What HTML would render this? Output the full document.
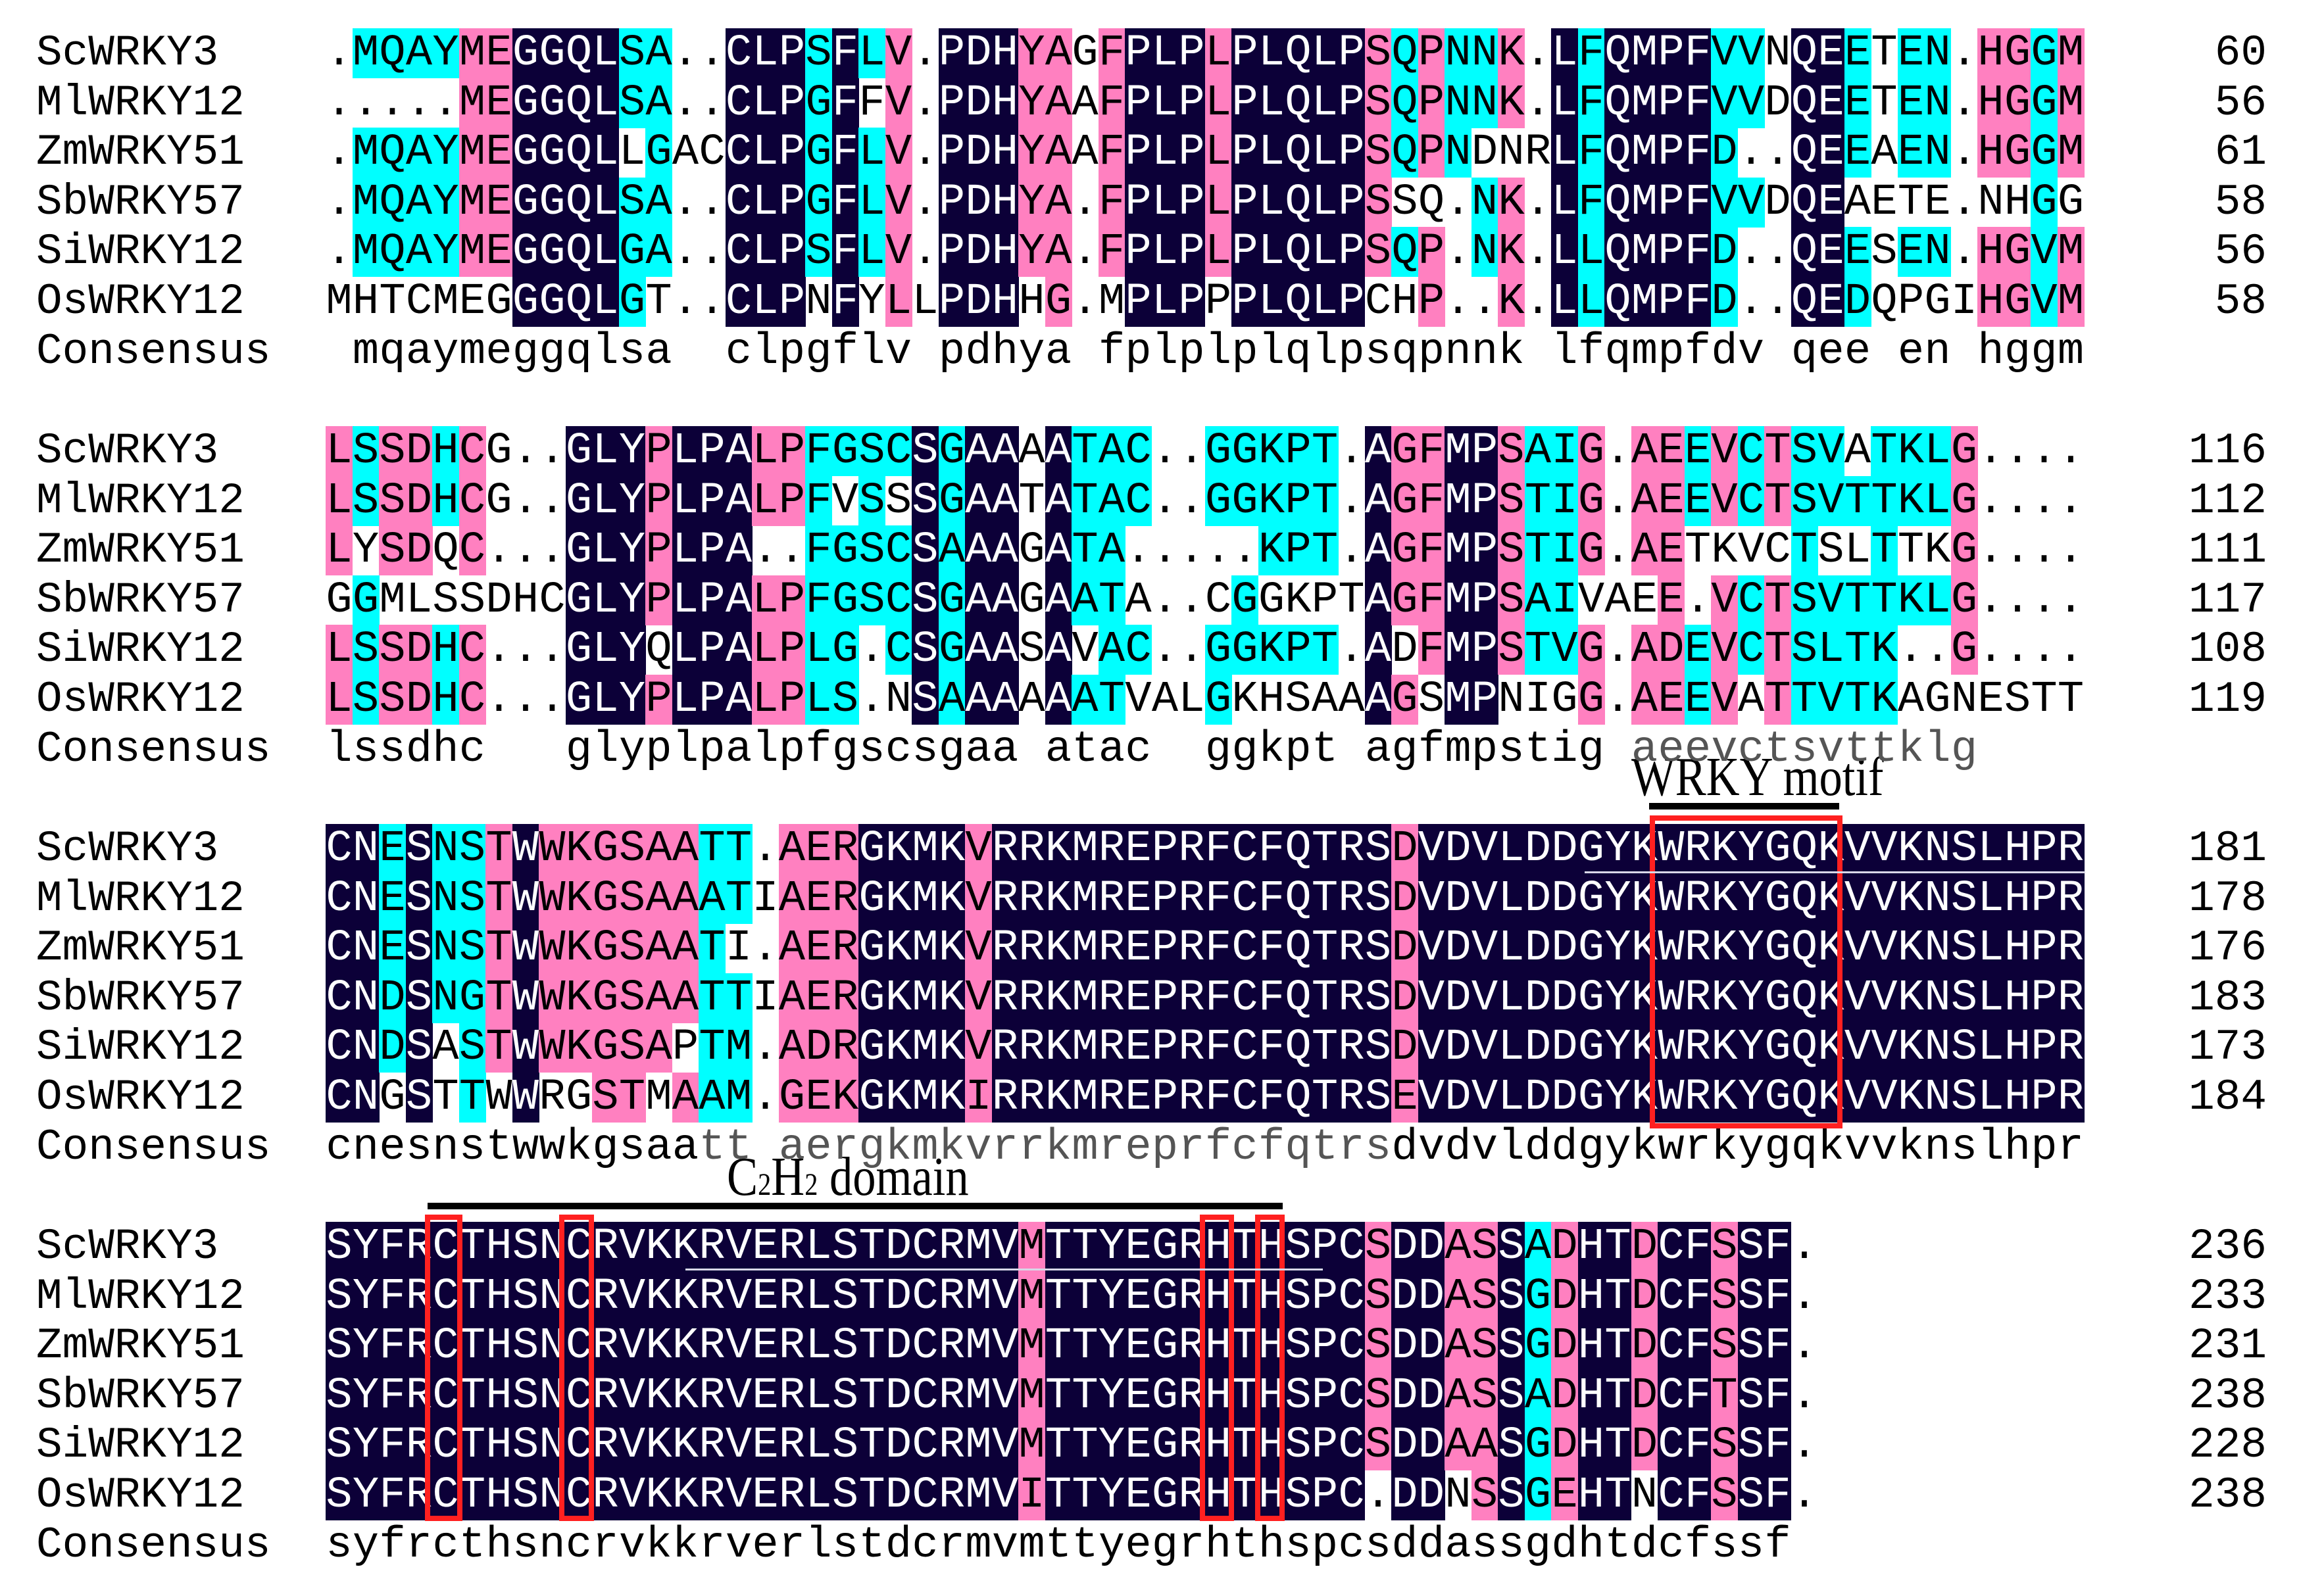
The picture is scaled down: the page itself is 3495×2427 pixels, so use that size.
<!DOCTYPE html>
<html><head><meta charset="utf-8">
<style>
html,body{margin:0;padding:0;background:#fff;}
#fig{position:relative;width:3495px;height:2427px;overflow:hidden;background:#fff;font-family:"Liberation Mono","DejaVu Sans Mono",monospace;}
.cell{position:absolute;width:41px;height:76px;line-height:76px;font-size:67px;text-align:center;color:#000;}
.lbl{position:absolute;height:76px;line-height:76px;font-size:66px;color:#000;white-space:pre;}
.num{position:absolute;height:76px;line-height:76px;font-size:66px;color:#000;text-align:right;width:200px;}
.ann{position:absolute;font-family:"Liberation Serif",serif;color:#000;white-space:nowrap;line-height:1;}
.bar{position:absolute;background:#000;}
.box{position:absolute;border:8px solid #ff2020;box-sizing:border-box;}
.uline{position:absolute;height:3px;background:#d8d8e8;}
</style></head>
<body>
<div id="fig">
  <div class="ann" style="left:2480px;top:1140px;font-size:84px;transform:scaleX(0.84);transform-origin:left top;">WRKY motif</div>
  <div class="bar" style="left:2507px;top:1221px;width:289px;height:10px;"></div>
  <div class="ann" style="left:1105px;top:1748px;font-size:84px;transform:scaleX(0.84);transform-origin:left top;">C<span style="font-size:48px">2</span>H<span style="font-size:48px">2</span> domain</div>
  <div class="bar" style="left:650px;top:1829px;width:1300px;height:10px;"></div>
</div>
<script>
const names = ["ScWRKY3","MlWRKY12","ZmWRKY51","SbWRKY57","SiWRKY12","OsWRKY12"];
const block1 = [
".MQAYMEGGQLSA..CLPSFLV.PDHYAGFPLPLPLQLPSQPNNK.LFQMPFVVNQEETEN.HGGM",
".....MEGGQLSA..CLPGFFV.PDHYAAFPLPLPLQLPSQPNNK.LFQMPFVVDQEETEN.HGGM",
".MQAYMEGGQLLGACCLPGFLV.PDHYAAFPLPLPLQLPSQPNDNRLFQMPFD..QEEAEN.HGGM",
".MQAYMEGGQLSA..CLPGFLV.PDHYA.FPLPLPLQLPSSQ.NK.LFQMPFVVDQEAETE.NHGG",
".MQAYMEGGQLGA..CLPSFLV.PDHYA.FPLPLPLQLPSQP.NK.LLQMPFD..QEESEN.HGVM",
"MHTCMEGGGQLGT..CLPNFYLLPDHHG.MPLPPPLQLPCHP..K.LLQMPFD..QEDQPGIHGVM"];
const block2 = [
"LSSDHCG..GLYPLPALPFGSCSGAAAATAC..GGKPT.AGFMPSAIG.AEEVCTSVATKLG....",
"LSSDHCG..GLYPLPALPFVSSSGAATATAC..GGKPT.AGFMPSTIG.AEEVCTSVTTKLG....",
"LYSDQC...GLYPLPA..FGSCSAAAGATA.....KPT.AGFMPSTIG.AETKVCTSLTTKG....",
"GGMLSSDHCGLYPLPALPFGSCSGAAGAATA..CGGKPTAGFMPSAIVAEE.VCTSVTTKLG....",
"LSSDHC...GLYQLPALPLG.CSGAASAVAC..GGKPT.ADFMPSTVG.ADEVCTSLTK..G....",
"LSSDHC...GLYPLPALPLS.NSAAAAAATVALGKHSAAAGSMPNIGG.AEEVATTVTKAGNESTT"];
const block3 = [
"CNESNSTWWKGSAATT.AERGKMKVRRKMREPRFCFQTRSDVDVLDDGYKWRKYGQKVVKNSLHPR",
"CNESNSTWWKGSAAATIAERGKMKVRRKMREPRFCFQTRSDVDVLDDGYKWRKYGQKVVKNSLHPR",
"CNESNSTWWKGSAATI.AERGKMKVRRKMREPRFCFQTRSDVDVLDDGYKWRKYGQKVVKNSLHPR",
"CNDSNGTWWKGSAATTIAERGKMKVRRKMREPRFCFQTRSDVDVLDDGYKWRKYGQKVVKNSLHPR",
"CNDSASTWWKGSAPTM.ADRGKMKVRRKMREPRFCFQTRSDVDVLDDGYKWRKYGQKVVKNSLHPR",
"CNGSTTWWRGSTMAAM.GEKGKMKIRRKMREPRFCFQTRSEVDVLDDGYKWRKYGQKVVKNSLHPR"];
const block4 = [
"SYFRCTHSNCRVKKRVERLSTDCRMVMTTYEGRHTHSPCSDDASSADHTDCFSSF.",
"SYFRCTHSNCRVKKRVERLSTDCRMVMTTYEGRHTHSPCSDDASSGDHTDCFSSF.",
"SYFRCTHSNCRVKKRVERLSTDCRMVMTTYEGRHTHSPCSDDASSGDHTDCFSSF.",
"SYFRCTHSNCRVKKRVERLSTDCRMVMTTYEGRHTHSPCSDDASSADHTDCFTSF.",
"SYFRCTHSNCRVKKRVERLSTDCRMVMTTYEGRHTHSPCSDDAASGDHTDCFSSF.",
"SYFRCTHSNCRVKKRVERLSTDCRMVITTYEGRHTHSPC.DDNSSGEHTNCFSSF."];
const consensus = [
" mqaymeggqlsa  clpgflv pdhya fplplplqlpsqpnnk lfqmpfdv qee en hggm",
"lssdhc   glyplpalpfgscsgaa atac  ggkpt agfmpstig aeevctsvttklg",
"cnesnstwwkgsaatt aergkmkvrrkmreprfcfqtrsdvdvlddgykwrkygqkvvknslhpr",
"syfrcthsncrvkkrverlstdcrmvmttyegrhthspcsddassgdhtdcfssf"];
const grayRanges = [[], [50,62], [15,40], []];
const endNumbers = [[60,56,61,58,56,58],[116,112,111,117,108,119],[181,178,176,183,173,184],[236,233,231,238,228,238]];
const blocks = [block1, block2, block3, block4];

const X0 = 495, CW = 40.5, Y0 = 43, RH = 75.6, BLOCK = 605;
const NAVY = "#0c0038", PINK = "#ff80c0", CYAN = "#00ffff";
const groups = ["DE","ST","AGS","NQ","ILVM","FY","KR"];
function similar(a,b){ return groups.some(g => g.includes(a) && g.includes(b)); }
function colX(c){ return X0 + CW * c; }
function rowY(b, r){ return Y0 + BLOCK * b + RH * r; }

const fig = document.getElementById('fig');

function columnColors(seqs, c){
  const res = seqs.map(s => s[c] || '.');
  const counts = {};
  res.forEach(ch => { if (ch !== '.') counts[ch] = (counts[ch]||0) + 1; });
  let top = null, tc = 0;
  for (const k in counts) if (counts[k] > tc) { tc = counts[k]; top = k; }
  return res.map(ch => {
    if (ch === '.' || !top) return null;
    if (tc === 6) return NAVY;
    if (tc === 5) return (ch === top || similar(ch, top)) ? PINK : null;
    if (tc >= 3) return (ch === top || similar(ch, top) || counts[ch] >= 2) ? CYAN : null;
    return null;
  });
}

blocks.forEach((seqs, b) => {
  const len = seqs[0].length;
  for (let c = 0; c < len; c++) {
    const cols = columnColors(seqs, c);
    seqs.forEach((s, r) => {
      const el = document.createElement('div');
      el.className = 'cell';
      
      
      el.style.left = colX(c) + 'px';
      el.style.top = rowY(b, r) + 'px';
      const bg = cols[r];
      if (bg) { el.style.background = bg; el.style.color = (bg === NAVY) ? '#fff' : '#000'; }
      el.textContent = s[c];
      fig.appendChild(el);
    });
  }
  names.concat(["Consensus"]).forEach((n, r) => {
    const l = document.createElement('div');
    l.className = 'lbl';
    
    
    l.style.left = '55px';
    l.style.top = rowY(b, r) + 'px';
    l.textContent = n;
    fig.appendChild(l);
  });
  const cs = consensus[b];
  for (let c = 0; c < cs.length; c++) {
    if (cs[c] === ' ') continue;
    const el = document.createElement('div');
    el.className = 'cell';
    
    
    el.style.left = colX(c) + 'px';
    el.style.top = rowY(b, 6) + 'px';
    const g = grayRanges[b];
    if (g.length && c + 1 >= g[0] && c + 1 <= g[1]) el.style.color = '#555';
    el.textContent = cs[c];
    fig.appendChild(el);
  }
  endNumbers[b].forEach((v, r) => {
    const el = document.createElement('div');
    el.className = 'num';
    
    
    el.style.left = (3446 - 200) + 'px';
    el.style.top = rowY(b, r) + 'px';
    el.textContent = v;
    fig.appendChild(el);
  });
});

function addBox(name, x, y, w, h){
  const el = document.createElement('div');
  el.className = 'box';
  
  
  el.style.left = x + 'px'; el.style.top = y + 'px';
  el.style.width = w + 'px'; el.style.height = h + 'px';
  fig.appendChild(el);
}
function addLine(name, x, y, w){
  const el = document.createElement('div');
  el.className = 'uline';
  
  
  el.style.left = x + 'px'; el.style.top = y + 'px'; el.style.width = w + 'px';
  fig.appendChild(el);
}
addBox('wrky-motif-box', 2508, 1240, 293, 476);
addBox('c2h2-cys-box-1', 646, 1847, 57, 466);
addBox('c2h2-cys-box-2', 850, 1847, 53, 466);
addBox('c2h2-his-box-1', 1824, 1847, 52, 466);
addBox('c2h2-his-box-2', 1908, 1847, 45, 466);
addLine('wrky-underline', 2409, 1325, 761);
addLine('c2h2-underline', 1042, 1929, 969);
</script>
</body></html>
